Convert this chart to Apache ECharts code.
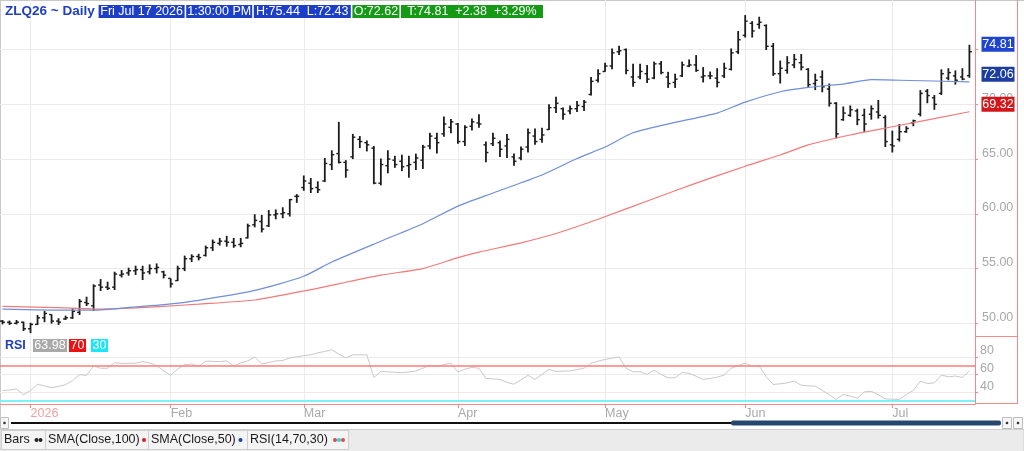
<!DOCTYPE html>
<html>
<head>
<meta charset="utf-8">
<script src="https://cdn.jsdelivr.net/npm/echarts@6.0.0/dist/echarts.min.js"></script>
<style>
  html, body { margin: 0; padding: 0; background: #fff; }
  #main { width: 1024px; height: 451px; }
</style>
</head>
<body>
<div id="main"></div>
<script>
// trading days on the chart, per month
const dec25 = [26, 29, 30, 31]
const jan26 = [2, 5, 6, 7, 8, 9, 12, 13, 14, 15, 16, 20, 21, 22, 23, 26, 27, 28, 29, 30]
const feb26 = [2, 3, 4, 5, 6, 9, 10, 11, 12, 13, 17, 18, 19, 20, 23, 24, 25, 26, 27]
const mar26 = [2, 3, 4, 5, 6, 9, 10, 11, 12, 13, 16, 17, 18, 19, 20, 23, 24, 25, 26, 27, 30, 31]
const apr26 = [1, 2, 6, 7, 8, 9, 10, 13, 14, 15, 16, 17, 20, 21, 22, 23, 24, 27, 28, 29, 30]
const may26 = [1, 4, 5, 6, 7, 8, 11, 12, 13, 14, 15, 18, 19, 20, 21, 22, 26, 27, 28, 29]
const jun26 = [1, 2, 3, 4, 5, 8, 9, 10, 11, 12, 15, 16, 17, 18, 22, 23, 24, 25, 26, 29, 30]
const jul26 = [1, 2, 6, 7, 8, 9, 10, 13, 14, 15, 16, 17]

// month axis labels (first one is the year)
const monthLabels = ['2026', 'Feb', 'Mar', 'Apr', 'May', 'Jun', 'Jul']

// OHLC
const opens = [
  50.2, 50.1, 50.0, 50.1, 49.5, 49.9, 50.5, 50.8, 50.2, 50.4,
  50.5, 51.0, 51.9, 51.6, 53.5, 53.3, 53.3, 54.4, 54.6, 54.8,
  54.9, 54.7, 55.0, 54.7, 54.1, 53.9, 55.0, 55.9, 56.1, 56.2,
  56.9, 57.3, 57.5, 57.4, 57.2, 57.8, 59.0, 59.3, 58.9, 59.9,
  60.0, 60.0, 61.6, 62.4, 62.8, 62.4, 63.0, 64.5, 65.5, 64.7,
  65.2, 66.8, 66.5, 66.0, 62.8, 64.4, 64.9, 64.8, 64.4, 64.7,
  64.9, 66.2, 66.9, 67.3, 67.9, 68.2, 66.6, 68.0, 68.3, 66.3,
  66.4, 66.5, 66.2, 65.2, 65.1, 66.1, 67.1, 66.8, 67.7, 69.7,
  69.6, 69.4, 69.6, 69.8, 70.9, 72.2, 73.0, 73.5, 74.8, 75.0,
  72.5, 72.5, 72.8, 72.4, 73.7, 72.5, 72.0, 72.6, 73.5, 73.6,
  72.5, 72.6, 72.4, 72.6, 73.2, 74.8, 76.3, 77.4, 77.3, 77.2,
  75.3, 72.8, 73.1, 73.6, 73.8, 73.2, 71.9, 72.5, 71.4, 70.1,
  68.6, 69.0, 69.4, 69.0, 69.1, 69.3, 68.8, 66.3, 66.8, 67.5,
  68.3, 69.1, 71.2, 70.6, 71.0, 72.4, 72.6, 72.5, 72.62
]
const highs = [
  50.3, 50.25, 50.3, 50.15, 50.05, 50.76, 51.12, 50.82, 50.46, 50.7,
  51.37, 52.22, 52.43, 53.56, 54.04, 53.8, 54.71, 54.86, 55.08, 55.26,
  55.26, 55.38, 55.47, 54.8, 54.1, 55.26, 56.18, 56.3, 56.35, 57.1,
  57.65, 57.8, 57.99, 57.8, 57.8, 59.1, 59.96, 59.9, 60.35, 60.4,
  60.6, 61.35, 61.8, 63.5, 63.27, 62.97, 65.1, 65.8, 68.4, 64.9,
  67.3, 67.1, 66.7, 66.2, 65.05, 65.8, 65.3, 65.4, 65.3, 65.5,
  66.3, 67.4, 67.4, 68.9, 68.65, 68.3, 68.1, 68.7, 69.1, 66.6,
  67.4, 66.7, 67.3, 65.5, 66.15, 67.8, 67.8, 67.85, 70.0, 70.7,
  69.7, 69.9, 70.3, 70.4, 72.5, 73.2, 73.8, 75.1, 75.35, 75.1,
  73.7, 73.7, 73.6, 73.9, 73.96, 72.97, 72.8, 73.9, 74.1, 74.5,
  73.4, 73.0, 73.3, 73.8, 75.1, 76.7, 78.15, 77.6, 78.0, 77.3,
  75.6, 74.0, 74.4, 74.6, 74.6, 73.3, 72.8, 73.1, 71.9, 70.2,
  69.8, 69.9, 69.6, 69.6, 69.9, 70.4, 69.0, 67.6, 68.2, 68.0,
  68.6, 71.3, 71.4, 70.85, 73.2, 73.3, 73.1, 73.3, 75.44
]
const lows = [
  49.9, 49.85, 49.9, 49.3, 49.1, 49.85, 50.1, 49.97, 49.85, 50.3,
  50.4, 50.76, 51.58, 51.12, 52.95, 53.04, 53.04, 54.19, 54.35, 54.41,
  53.95, 54.47, 54.56, 54.1, 53.26, 53.86, 54.77, 55.6, 55.75, 56.1,
  56.6, 57.1, 57.0, 56.9, 56.95, 57.75, 58.77, 58.3, 58.8, 59.5,
  59.6, 59.75, 61.0, 62.1, 61.9, 61.9, 62.9, 64.0, 64.6, 63.3,
  65.0, 66.0, 65.7, 62.7, 62.6, 63.7, 64.2, 63.9, 63.3, 64.0,
  64.1, 65.9, 65.5, 67.05, 67.35, 66.4, 66.2, 67.6, 67.85, 64.7,
  66.2, 65.2, 65.1, 64.4, 64.9, 65.6, 66.3, 66.5, 67.65, 69.2,
  68.6, 69.1, 69.3, 69.4, 70.8, 72.0, 72.97, 73.2, 74.5, 72.75,
  71.6, 72.3, 71.96, 72.3, 72.75, 71.5, 71.5, 72.5, 73.4, 72.97,
  72.0, 72.3, 71.55, 72.4, 73.1, 74.6, 76.1, 76.1, 76.9, 74.96,
  72.6, 71.9, 72.8, 73.3, 73.1, 71.55, 71.3, 71.1, 69.8, 66.9,
  68.5, 68.86, 68.1, 67.5, 68.6, 68.7, 66.1, 65.6, 66.6, 67.4,
  68.0, 68.9, 70.1, 69.5, 70.85, 72.2, 71.8, 72.2, 72.43
]
const closes = [
  50.1, 50.0, 50.1, 49.5, 49.9, 50.5, 50.9, 50.2, 50.1, 50.5,
  51.1, 52.0, 51.8, 53.4, 53.3, 53.2, 54.5, 54.5, 54.8, 54.9,
  54.6, 55.0, 55.1, 54.4, 53.6, 55.0, 55.9, 56.1, 56.0, 56.9,
  57.4, 57.5, 57.4, 57.1, 57.3, 58.9, 59.4, 58.6, 59.9, 60.0,
  60.1, 61.3, 61.6, 63.0, 62.3, 62.2, 64.6, 65.4, 64.7, 64.0,
  67.0, 66.6, 66.3, 62.8, 64.5, 65.0, 64.5, 64.3, 64.5, 65.1,
  66.1, 67.1, 66.5, 68.2, 68.4, 66.6, 67.9, 68.4, 68.2, 65.6,
  66.9, 65.9, 66.8, 64.8, 65.9, 67.4, 66.6, 67.2, 69.7, 70.1,
  69.1, 69.6, 69.9, 70.2, 72.1, 72.8, 73.5, 74.7, 74.9, 73.1,
  72.0, 73.0, 72.3, 73.7, 72.9, 71.9, 72.3, 73.6, 73.6, 73.1,
  72.6, 72.6, 72.0, 73.3, 74.7, 75.9, 77.6, 76.7, 77.5, 75.3,
  72.8, 73.3, 73.8, 74.1, 73.4, 71.8, 72.2, 71.6, 70.1, 67.3,
  69.2, 69.5, 68.6, 68.2, 69.6, 69.0, 66.6, 66.2, 67.5, 67.8,
  68.5, 71.0, 70.8, 70.0, 72.8, 72.9, 72.2, 72.3, 74.81
]

// moving averages, [bar index, value]
const sma50 = [
  [0, 51.3], [9, 51.2], [13, 51.2], [19, 51.5], [23, 51.7], [28, 52.1], [36, 53.0],
  [43, 54.3], [47, 55.6], [54, 57.5], [60, 59.1], [65, 60.7], [70, 61.9], [77, 63.55],
  [82, 65.05], [86, 66.1], [90, 67.4], [96, 68.35], [102, 69.2], [106, 70.2], [111, 71.15],
  [115, 71.55], [120, 71.85], [124, 72.25], [128, 72.2], [138, 72.06]
]
const sma100 = [
  [0, 51.55], [9, 51.4], [14, 51.3], [19, 51.4], [23, 51.55], [28, 51.75], [36, 52.13],
  [43, 52.95], [54, 54.4], [60, 55.0], [65, 56.0], [68, 56.5], [74, 57.35], [79, 58.2],
  [85, 59.5], [93, 61.4], [99, 62.8], [106, 64.35], [111, 65.37], [115, 66.3], [121, 67.2],
  [127, 67.95], [138, 69.32]
]

// RSI(14)
const rsi = [
  41.7, 42.5, 43.5, 37, 42, 49, 47, 45, 46.5, 48.5,
  53, 59.8, 59, 69.6, 67, 67, 73.4, 72.5, 72.7, 72.7,
  74.6, 73, 70, 64, 59, 66, 71, 71.9, 68.9, 75,
  74.8, 74.6, 75.3, 69.6, 73, 75.3, 79.7, 71.9, 73.5, 75.3,
  75.7, 78.8, 80, 81.4, 82.2, 84.5, 86, 87.9, 83, 78.8,
  82.2, 82.2, 82.2, 56.6, 63.5, 63, 62.5, 62, 62.8, 63.9,
  67, 70.4, 68.9, 71, 72.7, 62.8, 66, 68.1, 67, 55.5,
  55, 54.4, 51, 49, 54, 59, 54.4, 60, 65.8, 63.5,
  63.7, 64, 65.5, 67, 72.7, 75, 77, 78.4, 79.7, 67,
  63.1, 63.1, 60.1, 65, 60, 56.2, 56.2, 62.3, 61.2, 58,
  54.4, 55.5, 57, 59.3, 67, 70, 72.7, 69.6, 69.6, 57.4,
  48.6, 49.5, 50.5, 52.4, 47.8, 47.2, 46.7, 42.1, 37, 31.8,
  37.5, 35.5, 33.3, 40.2, 41, 37, 32.5, 32, 31.8, 37.1,
  42.1, 52.4, 49.7, 50.5, 59.3, 57.4, 58.2, 56.7, 63.98
]

const priceTicks = [50, 55, 60, 65, 70, 75]
const rsiTicks = [40, 60, 80]

// build the date categories and month start positions
const dates = []
;[[2025, 12, dec25], [2026, 1, jan26], [2026, 2, feb26], [2026, 3, mar26], [2026, 4, apr26],
  [2026, 5, may26], [2026, 6, jun26], [2026, 7, jul26]].forEach(([y, m, days]) => {
  days.forEach(d => dates.push(y + '-' + String(m).padStart(2, '0') + '-' + String(d).padStart(2, '0')))
})
const monthTicks = []
dates.forEach((d, i) => { if (i > 0 && d.slice(0, 7) !== dates[i - 1].slice(0, 7)) monthTicks.push(i) })

const ohlc = dates.map((d, i) => [i, opens[i], highs[i], lows[i], closes[i]])
const last = dates.length - 1

const font = 'Liberation Sans, Arial, sans-serif'
const red = '#f28a8a'

const chart = echarts.init(document.getElementById('main'))

const option = {
  animation: false,
  backgroundColor: '#fff',
  textStyle: { fontFamily: font },
  grid: [
    { left: -1, top: 0, width: 976, height: 336, containLabel: false, outerBoundsMode: 'none' },
    { left: -1, top: 336, width: 976, height: 68, containLabel: false, outerBoundsMode: 'none' }
  ],
  xAxis: [
    {
      gridIndex: 0, type: 'value', min: -0.5, max: 138.8,
      axisLine: { show: false, onZero: false },
      axisTick: { show: false, customValues: monthTicks },
      axisLabel: { show: false, customValues: monthTicks },
      splitLine: { show: true, lineStyle: { color: '#ebebeb' } }
    },
    {
      gridIndex: 1, type: 'value', min: -0.5, max: 138.8,
      axisLine: { show: true, onZero: false, lineStyle: { color: red } },
      axisTick: { show: true, customValues: monthTicks, length: 4, lineStyle: { color: red } },
      axisLabel: {
        customValues: monthTicks, align: 'left', margin: 3, fontSize: 12.5,
        formatter: v => {
          const k = monthTicks.indexOf(v)
          return (k === 0 ? '{p|' : '{g|') + monthLabels[k] + '}'
        },
        rich: {
          p: { color: '#f3a0a0', fontSize: 12.5, fontFamily: font },
          g: { color: '#a9a9a9', fontSize: 12.5, fontFamily: font }
        }
      },
      splitLine: { show: true, lineStyle: { color: '#ebebeb' } }
    }
  ],
  yAxis: [
    {
      gridIndex: 0, type: 'value', position: 'right', min: 48.84, max: 79.53,
      axisLine: { show: true, onZero: false, lineStyle: { color: red } },
      axisTick: { show: true, customValues: priceTicks, length: 3, lineStyle: { color: red } },
      axisLabel: {
        customValues: priceTicks, margin: 7, color: '#a8a8a8', fontSize: 12.5,
        verticalAlign: 'bottom', lineHeight: 12, formatter: v => v.toFixed(2)
      },
      splitLine: { show: true, lineStyle: { color: '#ebebeb' } }
    },
    {
      gridIndex: 1, type: 'value', position: 'right', min: 26.6, max: 103.5,
      axisLine: { show: true, onZero: false, lineStyle: { color: red } },
      axisTick: { show: true, customValues: rsiTicks, length: 3, lineStyle: { color: red } },
      axisLabel: {
        customValues: rsiTicks, margin: 5, color: '#a8a8a8', fontSize: 12.5,
        verticalAlign: 'bottom', lineHeight: 12
      },
      splitLine: { show: true, lineStyle: { color: '#ebebeb' } }
    }
  ],
  series: [
    {
      type: 'line', name: 'SMA100', xAxisIndex: 0, yAxisIndex: 0,
      data: sma100, smooth: 0.2, showSymbol: false, clip: false,
      lineStyle: { color: '#f07a7a', width: 1.2 },
      markPoint: {
        symbol: 'rect', symbolSize: [33, 15], symbolOffset: [28.6, -7.5],
        label: { show: true, color: '#fff', fontSize: 12.5, fontFamily: font, formatter: p => p.value },
        data: [{ coord: [last, sma100[sma100.length - 1][1]], value: sma100[sma100.length - 1][1].toFixed(2), itemStyle: { color: '#d4161b' } }]
      }
    },
    {
      type: 'line', name: 'SMA50', xAxisIndex: 0, yAxisIndex: 0,
      data: sma50, smooth: 0.2, showSymbol: false, clip: false,
      lineStyle: { color: '#6f8fd6', width: 1.2 },
      markPoint: {
        symbol: 'rect', symbolSize: [33, 15], symbolOffset: [28.6, -7.5],
        label: { show: true, color: '#fff', fontSize: 12.5, fontFamily: font, formatter: p => p.value },
        data: [
          { coord: [last, sma50[sma50.length - 1][1]], value: sma50[sma50.length - 1][1].toFixed(2), itemStyle: { color: '#1b3d9e' } },
          { coord: [last, closes[last]], value: closes[last].toFixed(2), itemStyle: { color: '#1f45cf' } }
        ]
      }
    },
    {
      type: 'custom', name: 'Bars', xAxisIndex: 0, yAxisIndex: 0,
      data: ohlc,
      encode: { x: 0, y: [1, 2, 3, 4] },
      renderItem: (params, api) => {
        const x = api.value(0)
        const o = api.coord([x, api.value(1)])
        const h = api.coord([x, api.value(2)])
        const l = api.coord([x, api.value(3)])
        const c = api.coord([x, api.value(4)])
        const tick = { stroke: '#1c1c1c', lineWidth: 1.4 }
        return {
          type: 'group',
          children: [
            { type: 'line', shape: { x1: h[0], y1: h[1], x2: l[0], y2: l[1] }, style: { stroke: '#1c1c1c', lineWidth: 1.8 } },
            { type: 'line', shape: { x1: o[0] - 2.5, y1: o[1], x2: o[0], y2: o[1] }, style: tick },
            { type: 'line', shape: { x1: c[0], y1: c[1], x2: c[0] + 2.5, y2: c[1] }, style: tick }
          ]
        }
      }
    },
    {
      type: 'line', name: 'RSI', xAxisIndex: 1, yAxisIndex: 1,
      data: rsi.map((v, i) => [i, v]), showSymbol: false,
      lineStyle: { color: '#c9c9c9', width: 1 },
      markLine: {
        silent: true, symbol: ['none', 'none'], label: { show: false },
        data: [
          { yAxis: 70, lineStyle: { color: '#ff7a7a', width: 1.6, type: 'solid' } },
          { yAxis: 30, lineStyle: { color: '#7ff0f8', width: 2, type: 'solid' } }
        ]
      }
    }
  ],
  graphic: [
    // frame
    { type: 'line', shape: { x1: 0, y1: 0.5, x2: 1024, y2: 0.5 }, style: { stroke: '#c8c8c8' } },
    { type: 'line', shape: { x1: 0.5, y1: 0, x2: 0.5, y2: 417 }, style: { stroke: '#c8c8c8' } },
    { type: 'line', shape: { x1: 1017.5, y1: 0, x2: 1017.5, y2: 404 }, style: { stroke: red } },
    { type: 'line', shape: { x1: 975, y1: 336.5, x2: 1018, y2: 336.5 }, style: { stroke: red } },
    { type: 'line', shape: { x1: 975, y1: 403.5, x2: 1018, y2: 403.5 }, style: { stroke: red } },
    // header
    {
      type: 'text', x: 5, y: 3, z: 10,
      style: {
        text: '{n|ZLQ26 ~ Daily}{s| }{b1|Fri Jul 17 2026}{s| }{b2|1:30:00 PM}{s| }{b3|H:75.44  L:72.43}{s| }{g1|O:72.62}{s| }{g2|T:74.81  +2.38  +3.29%}',
        rich: {
          n: { fill: '#1f40c0', fontSize: 13.5, fontWeight: 'bold', fontFamily: font, width: 92, lineHeight: 17 },
          s: { fontSize: 2, width: 1.6 },
          b1: { fill: '#fff', backgroundColor: '#1c3fc8', fontSize: 12.5, fontFamily: font, width: 86, align: 'center', lineHeight: 17 },
          b2: { fill: '#fff', backgroundColor: '#1c3fc8', fontSize: 12.5, fontFamily: font, width: 66, align: 'center', lineHeight: 17 },
          b3: { fill: '#fff', backgroundColor: '#1c3fc8', fontSize: 12.5, fontFamily: font, width: 97, align: 'center', lineHeight: 17 },
          g1: { fill: '#fff', backgroundColor: '#149a14', fontSize: 12.5, fontFamily: font, width: 47, align: 'center', lineHeight: 17 },
          g2: { fill: '#fff', backgroundColor: '#149a14', fontSize: 12.5, fontFamily: font, width: 142, align: 'center', lineHeight: 17 }
        }
      }
    },
    // RSI legend
    {
      type: 'text', x: 5, y: 338, z: 10,
      style: {
        text: '{r|RSI}{v|' + rsi[last].toFixed(2) + '}{s| }{a|70}{t| }{c|30}',
        rich: {
          r: { fill: '#1f40c0', fontSize: 12.5, fontWeight: 'bold', fontFamily: font, width: 28, lineHeight: 15 },
          v: { fill: '#fff', backgroundColor: '#a9a9a9', fontSize: 12.5, fontFamily: font, width: 34, align: 'center', lineHeight: 15 },
          s: { fontSize: 2, width: 2 },
          a: { fill: '#fff', backgroundColor: '#ee1111', fontSize: 12.5, fontFamily: font, width: 17, align: 'center', lineHeight: 15 },
          t: { fontSize: 2, width: 5 },
          c: { fill: '#fff', backgroundColor: '#19e6f6', fontSize: 12.5, fontFamily: font, width: 17, align: 'center', lineHeight: 15 }
        }
      }
    },
    // scroll bar
    { type: 'rect', shape: { x: 0.5, y: 417.5, width: 8, height: 11 }, style: { fill: '#f6f6f6', stroke: '#bdbdbd' } },
    { type: 'circle', shape: { cx: 4.5, cy: 423, r: 1.3 }, style: { fill: '#333' } },
    { type: 'line', shape: { x1: 11, y1: 423, x2: 731, y2: 423 }, style: { stroke: '#111', lineWidth: 2 } },
    { type: 'rect', shape: { x: 731, y: 420.5, width: 270, height: 5, r: 2 }, style: { fill: '#27486e' } },
    { type: 'rect', shape: { x: 1002.5, y: 417.5, width: 9, height: 11 }, style: { fill: '#f6f6f6', stroke: '#bdbdbd' } },
    { type: 'circle', shape: { cx: 1007, cy: 423, r: 1.3 }, style: { fill: '#333' } },
    { type: 'rect', shape: { x: 1013.5, y: 417.5, width: 9, height: 11 }, style: { fill: '#f6f6f6', stroke: '#bdbdbd' } },
    { type: 'circle', shape: { cx: 1018, cy: 423, r: 1.3 }, style: { fill: '#333' } },
    // bottom toolbar
    { type: 'rect', shape: { x: 0, y: 429.5, width: 1024, height: 22 }, style: { fill: '#ebebeb', stroke: '#cfcfcf' } },
    { type: 'rect', shape: { x: 1.5, y: 430.5, width: 347, height: 19 }, style: { fill: '#f4f4f4', stroke: '#cfcfcf' } },
    { type: 'line', shape: { x1: 45.5, y1: 431, x2: 45.5, y2: 449 }, style: { stroke: '#cfcfcf' } },
    { type: 'line', shape: { x1: 148.5, y1: 431, x2: 148.5, y2: 449 }, style: { stroke: '#cfcfcf' } },
    { type: 'line', shape: { x1: 247.5, y1: 431, x2: 247.5, y2: 449 }, style: { stroke: '#cfcfcf' } },
    { type: 'text', x: 4, y: 440, style: { text: 'Bars', fill: '#1a1a1a', font: '12.5px ' + font, verticalAlign: 'middle' } },
    { type: 'circle', shape: { cx: 36.5, cy: 440, r: 2 }, style: { fill: '#222' } },
    { type: 'circle', shape: { cx: 40.5, cy: 440, r: 2 }, style: { fill: '#222' } },
    { type: 'text', x: 48, y: 440, style: { text: 'SMA(Close,100)', fill: '#1a1a1a', font: '12.5px ' + font, verticalAlign: 'middle' } },
    { type: 'circle', shape: { cx: 144, cy: 440, r: 2 }, style: { fill: '#d42020' } },
    { type: 'text', x: 151, y: 440, style: { text: 'SMA(Close,50)', fill: '#1a1a1a', font: '12.5px ' + font, verticalAlign: 'middle' } },
    { type: 'circle', shape: { cx: 240.5, cy: 440, r: 2 }, style: { fill: '#1f3fa8' } },
    { type: 'text', x: 250, y: 440, style: { text: 'RSI(14,70,30)', fill: '#1a1a1a', font: '12.5px ' + font, verticalAlign: 'middle' } },
    { type: 'circle', shape: { cx: 335, cy: 440, r: 2 }, style: { fill: '#e04848' } },
    { type: 'circle', shape: { cx: 339, cy: 440, r: 2 }, style: { fill: '#2ad6e6' } },
    { type: 'circle', shape: { cx: 343, cy: 440, r: 2 }, style: { fill: '#e04848' } }
  ]
}

chart.setOption(option)
</script>
</body>
</html>
